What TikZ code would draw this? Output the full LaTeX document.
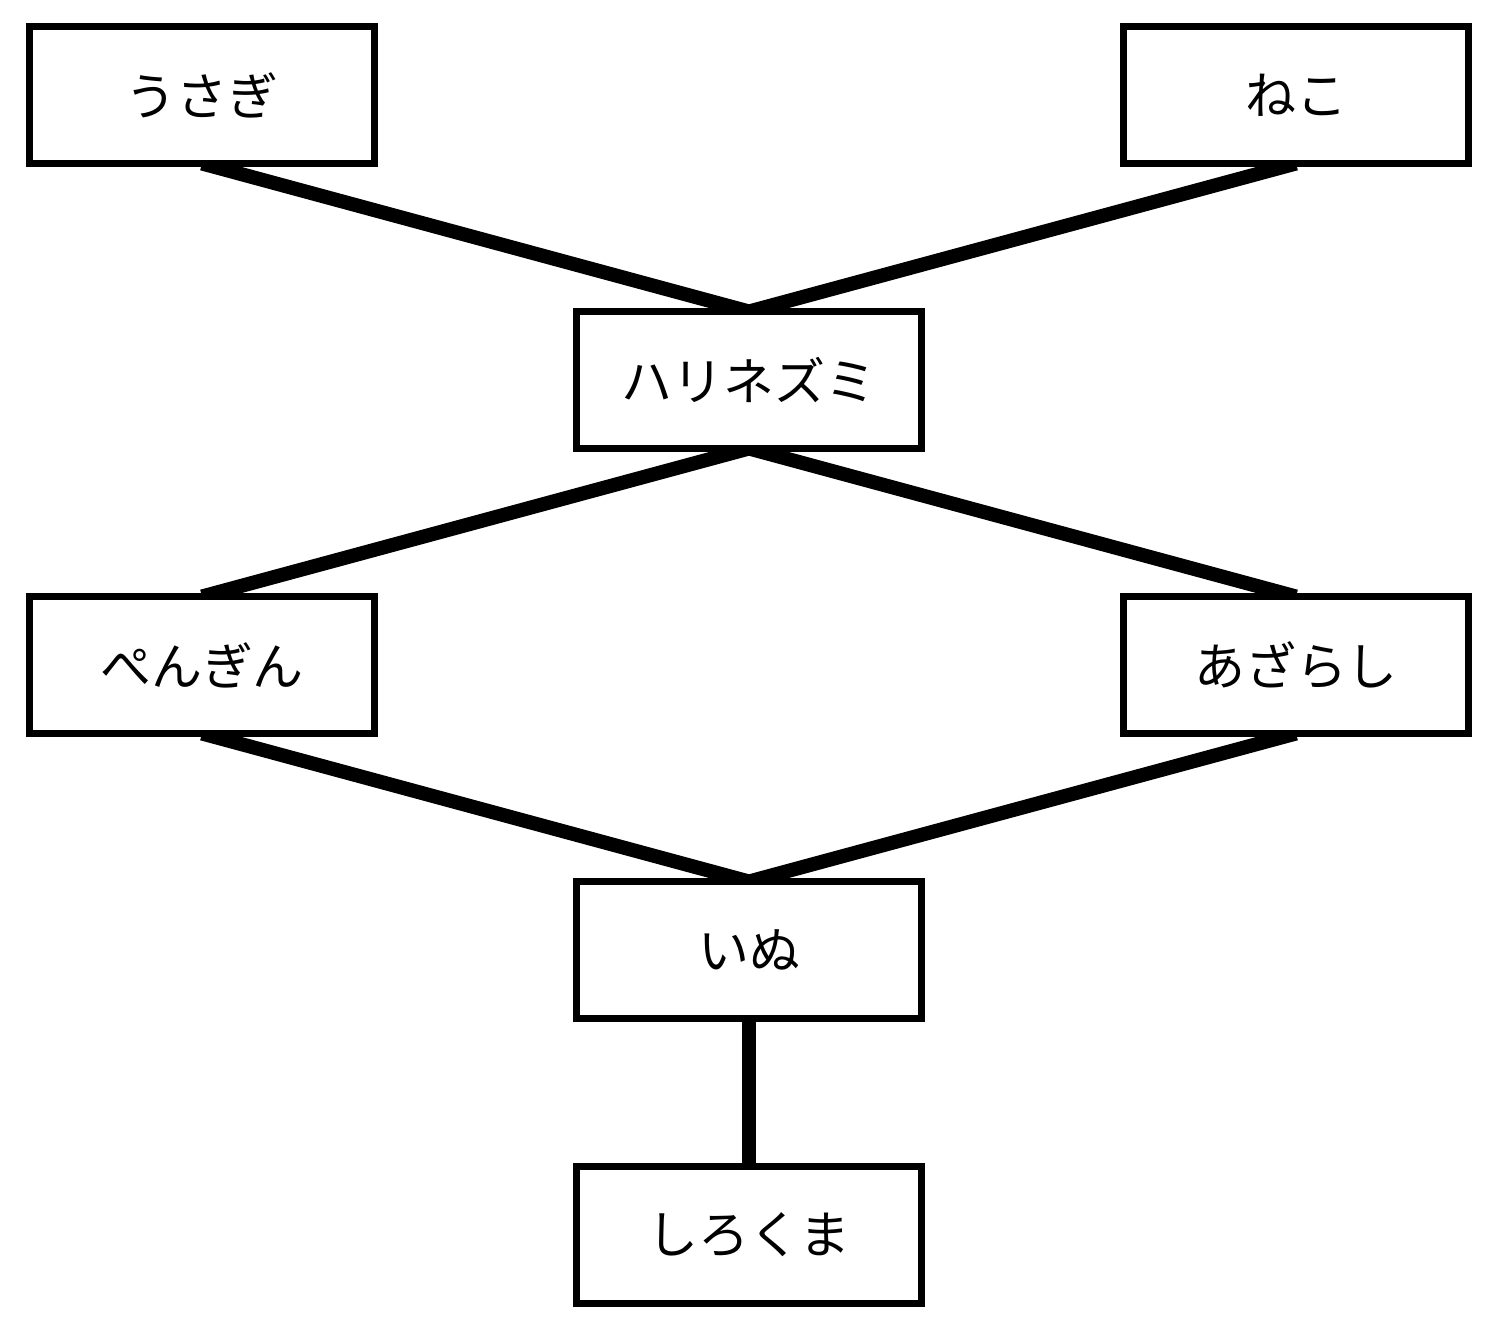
\documentclass[tikz,border=0pt]{standalone}
\usepackage{fontspec}
\newfontfamily\jp{Noto Sans CJK JP}
\usetikzlibrary{backgrounds}
\begin{document}
\begin{tikzpicture}[x=0.02cm,y=-0.02cm,
  box/.style={draw, fill=white, line width=4pt, outer sep=0pt, minimum width=6.9cm, minimum height=2.74cm, inner sep=0pt, font=\jp\fontsize{29}{34}\selectfont},
  link/.style={line width=8pt}]
\useasboundingbox (0,0) rectangle (1501,1328);
\node[box] (usagi) at (202,95) {うさぎ};
\node[box] (neko) at (1296,95) {ねこ};
\node[box] (hari) at (749,380) {ハリネズミ};
\node[box] (pen) at (202,665) {ぺんぎん};
\node[box] (aza) at (1296,665) {あざらし};
\node[box] (inu) at (749,950) {いぬ};
\node[box] (shiro) at (749,1235) {しろくま};
\begin{pgfonlayer}{background}
\draw[link] (usagi.south) -- (hari.north);
\draw[link] (neko.south) -- (hari.north);
\draw[link] (hari.south) -- (pen.north);
\draw[link] (hari.south) -- (aza.north);
\draw[link] (pen.south) -- (inu.north);
\draw[link] (aza.south) -- (inu.north);
\draw[link] (inu.south) -- (shiro.north);
\end{pgfonlayer}
\end{tikzpicture}
\end{document}
